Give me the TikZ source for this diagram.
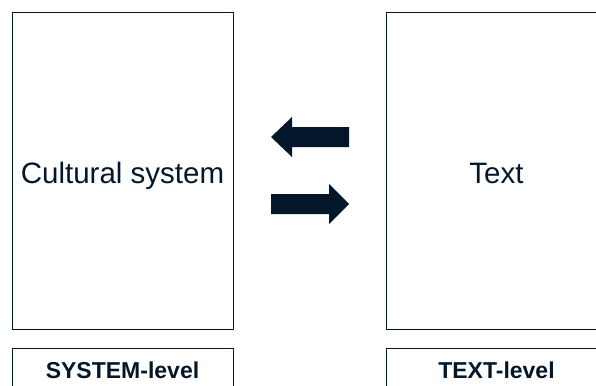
\documentclass[tikz,border=0pt]{standalone}
\usepackage{fontspec}
\setmainfont{Liberation Sans}
\usepackage{tikz}
\usetikzlibrary{positioning}
\definecolor{navy}{RGB}{4,22,42}

\begin{document}
\begin{tikzpicture}[x=1pt,y=-1pt,
    levelbox/.style={draw=navy, line width=0.9pt, text=navy, minimum width=221pt, inner sep=0pt},
    mainbox/.style={levelbox, minimum height=316.5pt, text height=24.5pt, text depth=0pt, font=\fontsize{29.5}{34}\selectfont},
    tagbox/.style={levelbox, minimum height=44pt, text height=16.5pt, text depth=0pt, font=\fontsize{23}{27}\selectfont\bfseries}]
    \useasboundingbox (0,0) rectangle (596,385);
    \clip (0,0) rectangle (596,385);
\node[mainbox] (culture) at (122.5,170.75) {Cultural system};
\node[mainbox] (text) at (496.5,170.75) {Text};
\node[tagbox] (syslevel) at (122.5,370) {SYSTEM-level};
\node[tagbox] (textlevel) at (496.5,370) {TEXT-level};
\fill[navy] (271,137)--(292,117)--(292,127)--(349,127)--(349,147)--(292,147)--(292,157)--cycle;
\fill[navy] (271,194)--(329,194)--(329,184)--(349,204)--(329,224)--(329,214)--(271,214)--cycle;
\end{tikzpicture}
\end{document}
